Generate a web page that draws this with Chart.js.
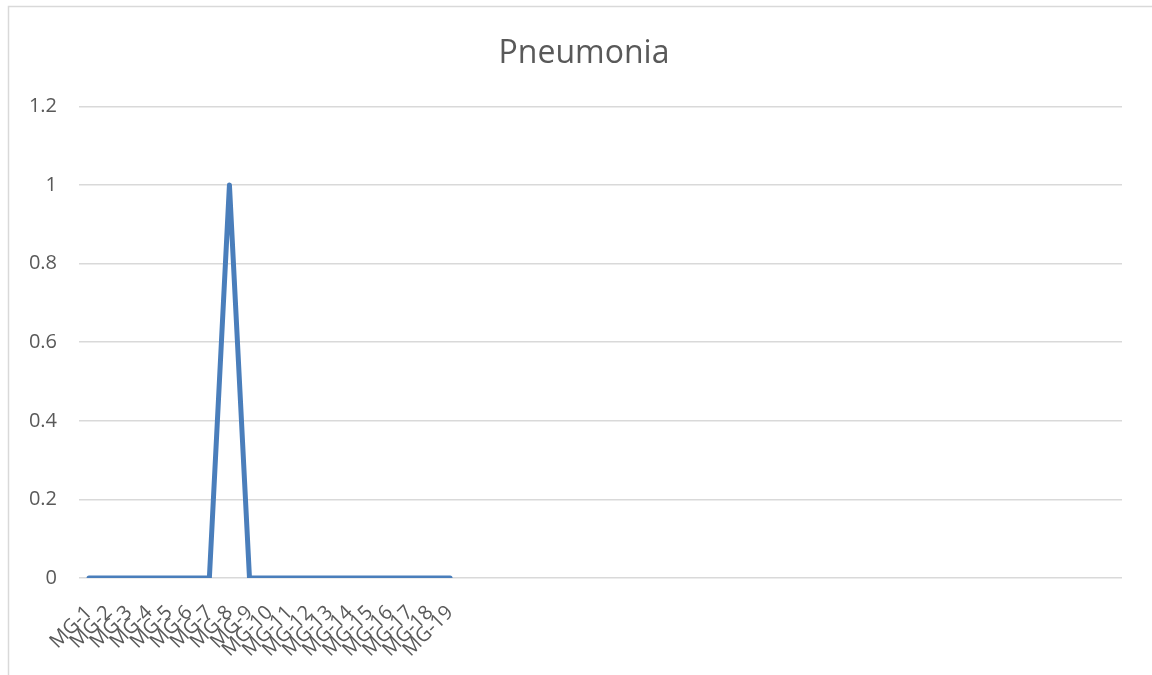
<!DOCTYPE html>
<html>
<head>
<meta charset="utf-8">
<script src="https://cdn.jsdelivr.net/npm/chart.js@4/dist/chart.umd.min.js"></script>
<style>
  html, body { margin: 0; padding: 0; background: #fff; }
  #wrap { position: relative; width: 1152px; height: 675px; }
</style>
</head>
<body>
<div id="wrap"><canvas id="chart" width="1152" height="675"></canvas></div>
<script>
// Categories shown on the axis (the axis continues with empty slots after MG-19)
const categories = ['MG-1', 'MG-2', 'MG-3', 'MG-4', 'MG-5', 'MG-6', 'MG-7', 'MG-8', 'MG-9', 'MG-10',
    'MG-11', 'MG-12', 'MG-13', 'MG-14', 'MG-15', 'MG-16', 'MG-17', 'MG-18', 'MG-19'];
const pneumonia = [0, 0, 0, 0, 0, 0, 0, 1, 0, 0, 0, 0, 0, 0, 0, 0, 0, 0, 0];
const emptySlots = 33;
const yTicks = [0, 0.2, 0.4, 0.6, 0.8, 1, 1.2];

const labels = categories.concat(Array(emptySlots).fill(''));

const textColor = '#595959';
const gridColor = '#d9d9d9';

// Thin frame on the left and top edges, like the original chart border
const framePlugin = {
    id: 'frame',
    beforeDraw(chart) {
        const ctx = chart.ctx;
        ctx.save();
        ctx.strokeStyle = gridColor;
        ctx.lineWidth = 1.5;
        ctx.beginPath();
        ctx.moveTo(8.5, chart.height);
        ctx.lineTo(8.5, 6.5);
        ctx.lineTo(chart.width, 6.5);
        ctx.stroke();
        ctx.restore();
    }
};

Chart.defaults.font.family = "'Open Sans', sans-serif";
Chart.defaults.color = textColor;

new Chart(document.getElementById('chart').getContext('2d'), {
    type: 'line',
    data: {
        labels: labels,
        datasets: [{
            label: 'Pneumonia',
            data: pneumonia,
            borderColor: '#4a7ebb',
            borderWidth: 5,
            borderCapStyle: 'round',
            borderJoinStyle: 'round',
            pointRadius: 0,
            tension: 0,
            fill: false
        }]
    },
    options: {
        responsive: false,
        animation: false,
        layout: { padding: { left: 16, right: 0, top: 0, bottom: 0 } },
        plugins: {
            legend: { display: false },
            tooltip: { enabled: false },
            title: {
                display: true,
                text: 'Pneumonia',
                color: textColor,
                font: { size: 32, weight: 'normal' },
                padding: { top: 35, bottom: 33 }
            }
        },
        scales: {
            x: {
                offset: true,
                grid: { display: false },
                border: { display: false },
                ticks: {
                    autoSkip: false,
                    maxRotation: 45,
                    minRotation: 45,
                    font: { size: 20 },
                    color: textColor,
                    padding: 15
                },
                afterFit: (scale) => { scale.height = 97; }
            },
            y: {
                min: 0,
                max: 1.2,
                afterBuildTicks: (scale) => { scale.ticks = yTicks.map(v => ({ value: v })); },
                grid: { color: gridColor, lineWidth: 1.5, drawTicks: false },
                border: { display: false },
                ticks: {
                    font: { size: 20 },
                    color: textColor,
                    padding: 22,
                    callback: (val) => String(val)
                },
                afterFit: (scale) => { scale.width = 63; }
            },
            // empty spacer on the right so the plot ends where the original does
            spacer: {
                type: 'linear',
                position: 'right',
                grid: { display: false },
                border: { display: false },
                ticks: { display: false },
                afterFit: (scale) => { scale.width = 30; }
            }
        }
    },
    plugins: [framePlugin]
});
</script>
</body>
</html>
